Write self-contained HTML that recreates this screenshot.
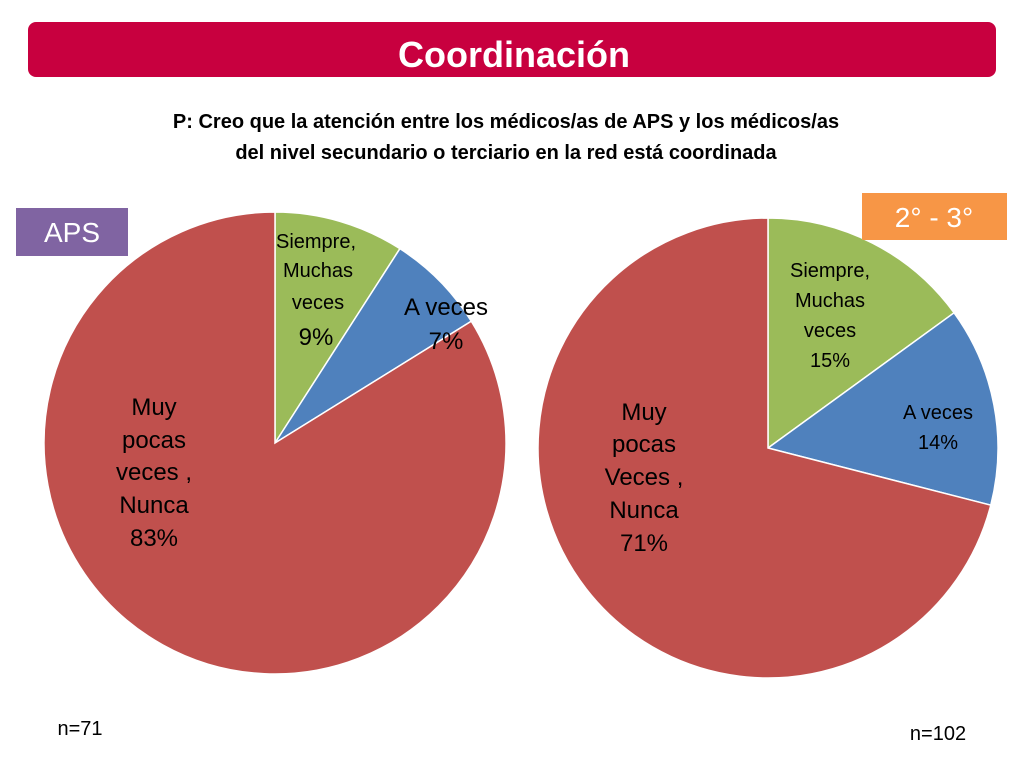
<!DOCTYPE html>
<html><head><meta charset="utf-8"><style>
body{margin:0;background:#fff;font-family:"Liberation Sans",sans-serif}
svg{display:block}
</style></head><body>
<svg width="1024" height="768" viewBox="0 0 1024 768">
<rect x="28" y="22" width="968" height="55" rx="8" fill="#C8003F"/>
<text x="514" y="67" text-anchor="middle" font-size="36" font-weight="bold" fill="#fff">Coordinación</text>
<g font-size="20" font-weight="bold" fill="#000" text-anchor="middle">
<text x="506" y="128">P: Creo que la atención entre los médicos/as de APS y los médicos/as</text>
<text x="506" y="159">del nivel secundario o terciario en la red está coordinada</text>
</g>
<g id="pies"></g>
<rect x="16" y="208" width="112" height="48" fill="#8064A2"/>
<text x="72" y="242" text-anchor="middle" font-size="28" fill="#fff">APS</text>
<rect x="862" y="193" width="145" height="47" fill="#F79646"/>
<text x="934" y="227" text-anchor="middle" font-size="28" fill="#fff">2° - 3°</text>
<g font-size="20" text-anchor="middle" fill="#000">
<text x="80" y="735">n=71</text>
<text x="938" y="740">n=102</text>
</g>
<g text-anchor="middle" fill="#000">
<g font-size="20"><text x="316" y="248">Siempre,</text><text x="318" y="277">Muchas</text><text x="318" y="309">veces</text></g>
<text x="316" y="345" font-size="24">9%</text>
<text x="446" y="315" font-size="24">A veces</text><text x="446" y="349" font-size="24">7%</text>
<g font-size="24"><text x="154" y="415">Muy</text><text x="154" y="448">pocas</text><text x="154" y="480">veces ,</text><text x="154" y="513">Nunca</text><text x="154" y="546">83%</text></g>
<g font-size="20"><text x="830" y="277">Siempre,</text><text x="830" y="307">Muchas</text><text x="830" y="337">veces</text><text x="830" y="367">15%</text>
<text x="938" y="419">A veces</text><text x="938" y="449">14%</text></g>
<g font-size="24"><text x="644" y="420">Muy</text><text x="644" y="452">pocas</text><text x="644" y="485">Veces ,</text><text x="644" y="518">Nunca</text><text x="644" y="551">71%</text></g>
</g>
</svg>
<script>
const categories=["Siempre, Muchas veces","A veces","Muy pocas veces, Nunca"];
const apsValues=[9,7,83];
const secValues=[15,14,71];
const colors=["#9BBB59","#4F81BD","#C0504D"];
const NS="http://www.w3.org/2000/svg";
function drawPie(vals,cx,cy,r,name){
  const g=document.getElementById('pies');
  const tot=vals.reduce((a,b)=>a+b,0);
  let a0=0;
  vals.forEach((v,i)=>{
    const a1=a0+v/tot*2*Math.PI;
    const x0=cx+r*Math.sin(a0),y0=cy-r*Math.cos(a0),x1=cx+r*Math.sin(a1),y1=cy-r*Math.cos(a1);
    const p=document.createElementNS(NS,'path');
    p.setAttribute('d',`M${cx},${cy}L${x0},${y0}A${r},${r} 0 ${a1-a0>Math.PI?1:0} 1 ${x1},${y1}Z`);
    p.setAttribute('fill',colors[i]);p.setAttribute('stroke','#fff');p.setAttribute('stroke-width','1.5');
    
    
    g.appendChild(p);a0=a1;
  });
}
drawPie(apsValues,275,443,231,'aps');
drawPie(secValues,768,448,230,'secondary');
</script>
</body></html>
